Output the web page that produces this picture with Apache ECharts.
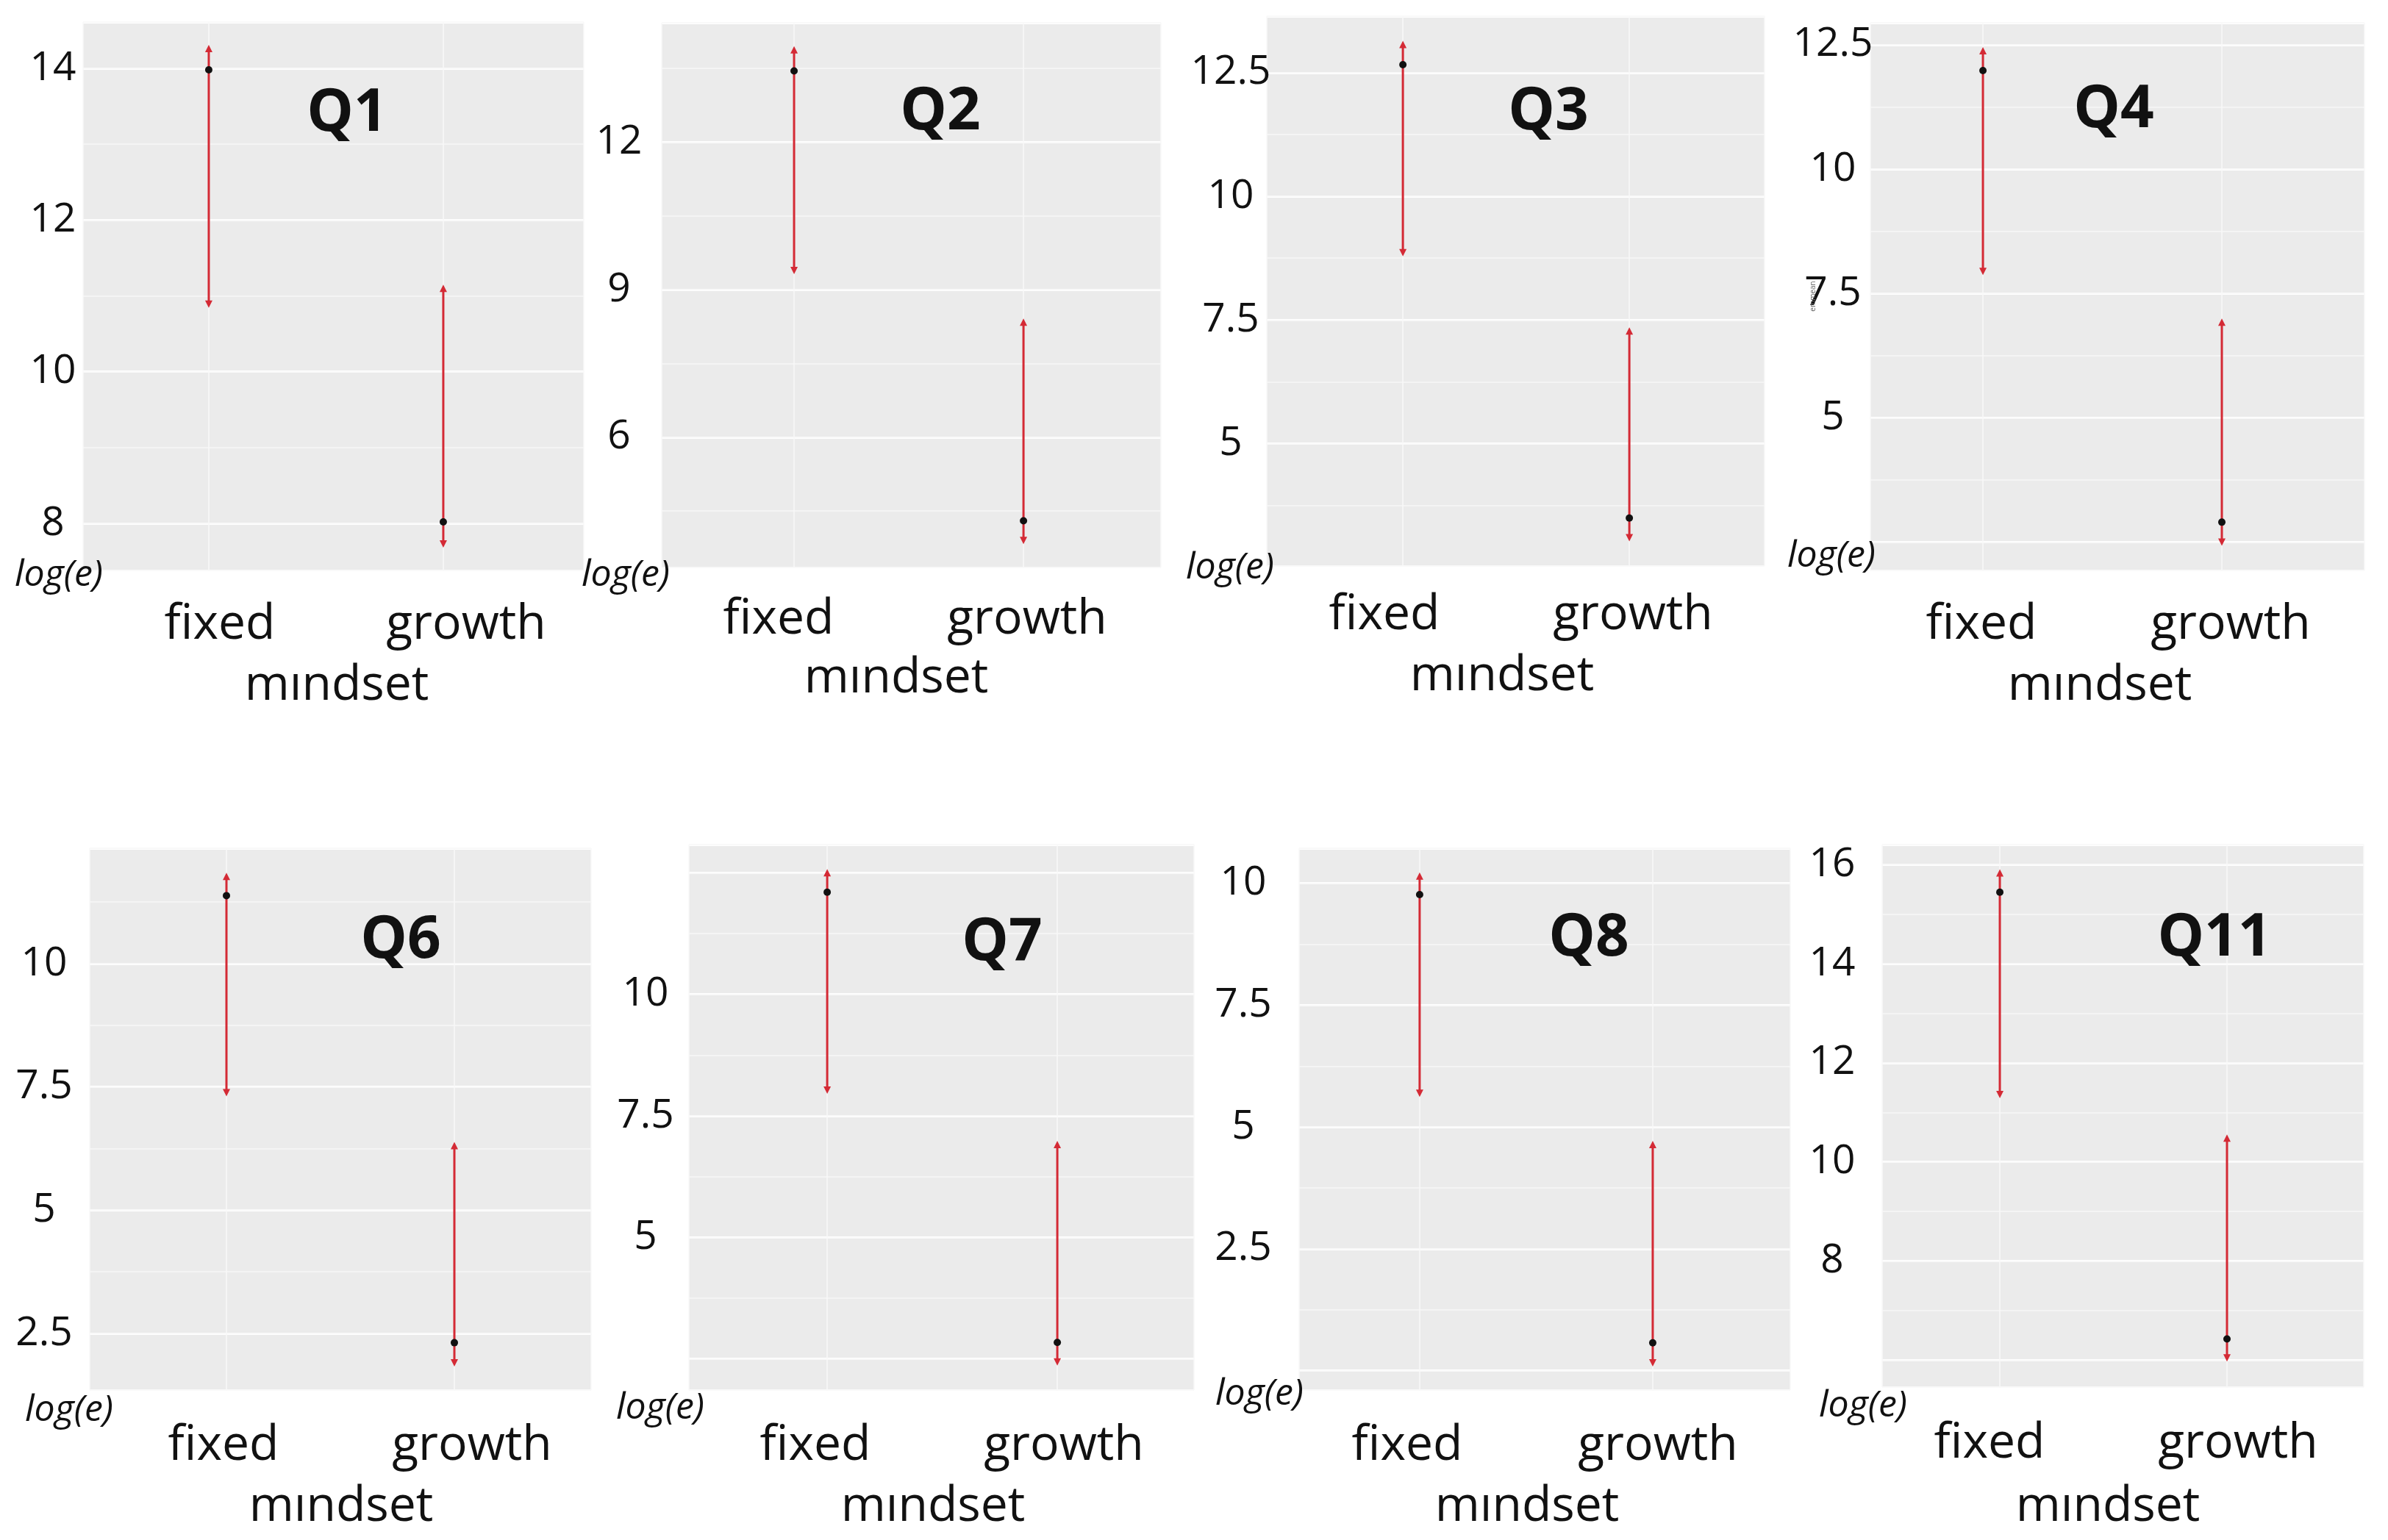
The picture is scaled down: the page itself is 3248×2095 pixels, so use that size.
<!DOCTYPE html>
<html>
<head>
<meta charset="utf-8">
<script src="https://cdn.jsdelivr.net/npm/echarts@6/dist/echarts.min.js"></script>
<style>
html,body{margin:0;padding:0;background:#fff;}
#chart{width:3248px;height:2095px;}
</style>
</head>
<body>
<div id="chart"></div>
<script>
// ---------------- data ----------------
const categories = ['fixed', 'growth'];
const panelTitles = ['Q1', 'Q2', 'Q3', 'Q4', 'Q6', 'Q7', 'Q8', 'Q11'];
const xAxisName = 'mındset';
const yAxisName = 'log(e)';
const categoryX = [1, 2];

const fixedLower  = [10.89, 9.39, 8.86, 7.94, 7.38, 8.03, 5.69, 11.36];
const fixedMean   = [13.98, 13.45, 12.66, 11.98, 11.38, 12.10, 9.77, 15.44];
const fixedUpper  = [14.26, 13.88, 13.07, 12.38, 11.77, 12.50, 10.15, 15.83];
const growthLower = [7.73, 3.90, 3.10, 2.50, 1.90, 2.44, 0.16, 6.05];
const growthMean  = [8.02, 4.30, 3.50, 2.90, 2.31, 2.84, 0.57, 6.43];
const growthUpper = [11.10, 8.34, 7.28, 6.92, 6.31, 6.91, 4.64, 10.48];

const majorStep = [2, 3, 2.5, 2.5, 2.5, 2.5, 2.5, 2];
const tickLabels = [
  [8, 10, 12, 14],
  [6, 9, 12],
  [5, 7.5, 10, 12.5],
  [5, 7.5, 10, 12.5],
  [2.5, 5, 7.5, 10],
  [5, 7.5, 10],
  [2.5, 5, 7.5, 10],
  [8, 10, 12, 14, 16]
];
const yRanges = [
  [7.38, 14.61], [3.35, 14.43], [2.53, 13.64], [1.93, 12.94],
  [1.35, 12.34], [1.86, 13.08], [-0.40, 10.72], [5.46, 16.40]
];

// ---------------- layout (pixels) ----------------
const layout = [
 {grid:[113,30,681,746],  x:[0.464,2.599], m:41, title:[472,155],  log:[80,783],   fixed:[299,850],  growth:[634,850],  mind:[458,933]},
 {grid:[900,31,679,741],  x:[0.423,2.599], m:58, title:[1279,153], log:[851,783],  fixed:[1059,843], growth:[1397,843], mind:[1219,923]},
 {grid:[1723,22,677,748], x:[0.399,2.597], m:49, title:[2106,153], log:[1673,773], fixed:[1883,837], growth:[2221,837], mind:[2043,920]},
 {grid:[2544,31,672,745], x:[0.529,2.597], m:51, title:[2875,150], log:[2491,757], fixed:[2695,850], growth:[3034,850], mind:[2856,933]},
 {grid:[122,1154,682,737],x:[0.400,2.600], m:62, title:[545,1280], log:[94,1919],  fixed:[304,1967], growth:[642,1967], mind:[464,2050]},
 {grid:[937,1149,687,742],x:[0.399,2.594], m:59, title:[1363,1283],log:[898,1916], fixed:[1109,1967],growth:[1447,1967],mind:[1269,2050]},
 {grid:[1767,1154,668,737],x:[0.483,2.590],m:76, title:[2161,1277],log:[1713,1897],fixed:[1914,1967],growth:[2255,1967],mind:[2077,2050]},
 {grid:[2560,1149,655,738],x:[0.482,2.602],m:68, title:[3012,1277],log:[2534,1913],fixed:[2706,1964],growth:[3044,1964],mind:[2867,2050]}
];

const RED = '#d42a35';
const FONT = '"Open Sans", "Noto Sans", sans-serif';

function renderItem(params, api) {
  const x = api.value(0);
  const lo = api.coord([x, api.value(1)]);
  const mid = api.coord([x, api.value(2)]);
  const hi = api.coord([x, api.value(3)]);
  const a = 5, h = 10;
  return {
    type: 'group',
    children: [
      {type: 'line', shape: {x1: lo[0], y1: lo[1], x2: hi[0], y2: hi[1]}, style: {stroke: RED, lineWidth: 3}},
      {type: 'polygon', shape: {points: [[hi[0], hi[1] - h/2], [hi[0] - a, hi[1] + h/2], [hi[0] + a, hi[1] + h/2]]}, style: {fill: RED}},
      {type: 'polygon', shape: {points: [[lo[0], lo[1] + h/2], [lo[0] - a, lo[1] - h/2], [lo[0] + a, lo[1] - h/2]]}, style: {fill: RED}},
      {type: 'circle', shape: {cx: mid[0], cy: mid[1], r: 5}, style: {fill: '#111'}}
    ]
  };
}

const grids = [], xAxes = [], yAxes = [], series = [], graphics = [];
function txt(text, pos, font, extra) {
  graphics.push(Object.assign({
    type: 'text', z: 100,
    style: {text: text, x: pos[0], y: pos[1], font: font, fill: '#111',
            align: 'center', textAlign: 'center', verticalAlign: 'middle', textVerticalAlign: 'middle'}
  }, extra || {}));
}

panelTitles.forEach((title, i) => {
  const L = layout[i];
  grids.push({left: L.grid[0], top: L.grid[1], width: L.grid[2], height: L.grid[3],
              show: true, backgroundColor: '#EBEBEB', borderWidth: 0, containLabel: false});
  xAxes.push({
    type: 'value', gridIndex: i, min: L.x[0], max: L.x[1],
    minInterval: 1, maxInterval: 1,
    axisLine: {show: false}, axisTick: {show: false}, axisLabel: {show: false},
    splitLine: {show: true, lineStyle: {color: '#f8f8f8', width: 1.5}}
  });
  const labels = tickLabels[i];
  // major axis (with labels)
  yAxes.push({
    type: 'value', gridIndex: i, min: yRanges[i][0], max: yRanges[i][1],
    minInterval: majorStep[i], maxInterval: majorStep[i],
    axisLine: {show: false}, axisTick: {show: false},
    axisLabel: {
      show: true, showMinLabel: false, showMaxLabel: false,
      margin: L.m, align: 'center', fontSize: 55, fontFamily: FONT, color: '#111',
      formatter: function (v) {
        return labels.some(t => Math.abs(t - v) < 1e-6) ? String(v) : '';
      }
    },
    splitLine: {show: true, lineStyle: {color: '#ffffff', width: 3}}
  });
  // minor axis (grid lines only)
  yAxes.push({
    type: 'value', gridIndex: i, min: yRanges[i][0], max: yRanges[i][1],
    minInterval: majorStep[i] / 2, maxInterval: majorStep[i] / 2,
    axisLine: {show: false}, axisTick: {show: false}, axisLabel: {show: false},
    splitLine: {show: true, lineStyle: {color: '#f7f7f7', width: 1.5}}
  });
  series.push({
    type: 'custom', xAxisIndex: i, yAxisIndex: 2 * i, renderItem: renderItem,
    encode: {x: 0, y: [1, 2, 3]}, z: 10, silent: true,
    data: [
      [categoryX[0], fixedLower[i], fixedMean[i], fixedUpper[i]],
      [categoryX[1], growthLower[i], growthMean[i], growthUpper[i]]
    ]
  });
  txt(title, L.title, 'bold 80px ' + FONT);
  txt(yAxisName, L.log, 'italic 50px ' + FONT);
  txt(categories[0], L.fixed, '66px ' + FONT);
  txt(categories[1], L.growth, '66px ' + FONT);
  txt(xAxisName, L.mind, '66px ' + FONT);
});
// tiny rotated axis title remnant in Q4
graphics.push({type: 'text', z: 100, x: 2466, y: 403, rotation: Math.PI / 2,
  style: {text: 'emmean', x: 0, y: 0, font: '10px ' + FONT, fill: '#666',
          align: 'center', textAlign: 'center', verticalAlign: 'middle', textVerticalAlign: 'middle'}});

const chart = echarts.init(document.getElementById('chart'), null, {renderer: 'canvas'});
chart.setOption({
  animation: false,
  backgroundColor: '#ffffff',
  grid: grids, xAxis: xAxes, yAxis: yAxes, series: series,
  graphic: {elements: graphics}
});
</script>
</body>
</html>
